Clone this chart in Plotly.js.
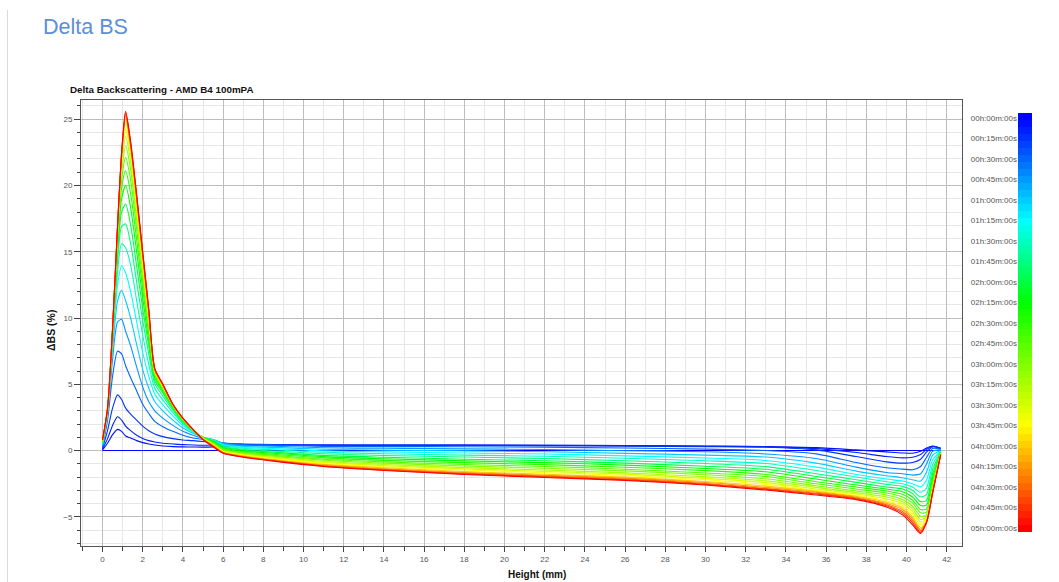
<!DOCTYPE html>
<html>
<head>
<meta charset="utf-8">
<script src="https://cdn.plot.ly/plotly-3.0.1.min.js"></script>
<style>
html,body{margin:0;padding:0;background:#ffffff;}
#chart{width:1059px;height:582px;}
</style>
</head>
<body>
<div id="chart"></div>
<script>
// ---- DATA ----
const heightMm = [0, 0.25, 0.5, 0.75, 0.95, 1.15, 1.4, 1.7, 2.0, 2.3, 2.6, 3.0, 3.5, 4.0, 4.5, 5.0, 5.5, 6.0, 7.0, 8.5, 11, 14, 18, 22, 26, 30, 33, 35.5, 37.5, 39, 39.8, 40.3, 40.7, 41.0, 41.3, 41.7];

const scanMinutes = [0, 5, 10, 15, 30, 45, 60, 75, 90, 105, 120, 135, 150, 165, 180, 195, 210, 225, 240, 255, 270, 285, 300];

const scan_000 = [0,0,0,0,0,0,0,0,0,0,0,0,0,0,0,0,0,0,0,0,0,0,0,0,0,0,0,0,0,0,0,0,0,0,0,0];
const scan_005 = [0.05,0.55,1.2,1.6,1.45,1.1,0.95,0.75,0.6,0.5,0.42,0.35,0.3,0.28,0.27,0.26,0.28,0.32,0.38,0.4,0.41,0.41,0.41,0.39,0.37,0.33,0.3,0.22,0.05,-0.1,-0.18,-0.2,-0.05,0.2,0.35,0.2];
const scan_010 = [0.1,0.9,1.9,2.55,2.3,1.85,1.5,1.15,0.92,0.75,0.65,0.55,0.5,0.45,0.42,0.4,0.42,0.45,0.45,0.45,0.42,0.42,0.42,0.4,0.38,0.35,0.3,0.15,-0.15,-0.45,-0.55,-0.5,-0.3,0.1,0.32,0.15];
const scan_015 = [0.15,1.5,3.2,4.2,3.85,3.2,2.75,2.3,1.85,1.5,1.25,1.05,0.9,0.8,0.75,0.68,0.62,0.55,0.5,0.45,0.39,0.38,0.38,0.35,0.33,0.3,0.25,0.05,-0.45,-0.85,-0.95,-0.9,-0.65,-0.1,0.28,0.12];
const scan_030 = [0.25,2.3,5.6,7.5,7.3,6.4,5.5,4.5,3.5,2.8,2.2,1.8,1.45,1.15,0.95,0.85,0.78,0.58,0.46,0.42,0.32,0.3,0.29,0.25,0.19,0.11,0.0,-0.25,-0.9,-1.3,-1.4,-1.45,-1.2,-0.5,0.15,0.1];
const scan_045 = [0.35,2.6,6.9,9.7,9.9,9.0,7.9,6.3,4.8,3.7,3.0,2.45,1.9,1.45,1.15,0.93,0.83,0.56,0.39,0.33,0.21,0.17,0.13,0.08,-0.01,-0.09,-0.26,-0.6,-1.25,-1.65,-1.75,-1.85,-1.75,-1.0,-0.05,0.05];
const scan_060 = [0.4,2.75,7.6,11.3,12.1,11.3,10.0,8.0,6.1,4.7,3.7,3.0,2.3,1.7,1.3,0.98,0.84,0.52,0.32,0.24,0.1,0.03,-0.02,-0.09,-0.21,-0.34,-0.49,-0.95,-1.55,-1.9,-2.05,-2.2,-2.3,-1.6,-0.35,0.0];
const scan_075 = [0.45,2.85,8.0,12.5,13.95,13.4,12.0,9.7,7.4,5.6,4.25,3.45,2.62,1.88,1.38,1.0,0.82,0.46,0.24,0.15,-0.02,-0.1,-0.18,-0.26,-0.4,-0.56,-0.75,-1.25,-1.8,-2.15,-2.3,-2.5,-2.75,-2.2,-0.7,-0.05];
const scan_090 = [0.5,2.9,8.3,13.5,15.6,15.3,14.0,11.3,8.7,6.5,4.7,3.82,2.87,2.02,1.45,1.0,0.79,0.4,0.17,0.06,-0.13,-0.24,-0.34,-0.43,-0.58,-0.77,-0.98,-1.5,-2.0,-2.35,-2.5,-2.75,-3.15,-2.8,-1.05,-0.05];
const scan_105 = [0.55,2.95,8.5,14.3,16.9,17.1,15.6,12.7,9.8,7.3,5.05,4.12,3.05,2.12,1.48,1.0,0.75,0.33,0.1,-0.03,-0.24,-0.37,-0.49,-0.6,-0.77,-0.98,-1.21,-1.75,-2.2,-2.55,-2.7,-3.0,-3.5,-3.3,-1.4,-0.1];
const scan_120 = [0.6,3.0,8.6,14.9,18.0,18.6,17.0,13.9,10.7,7.9,5.3,4.35,3.18,2.2,1.5,1.0,0.71,0.27,0.03,-0.12,-0.36,-0.5,-0.65,-0.77,-0.95,-1.18,-1.41,-1.95,-2.4,-2.75,-2.9,-3.25,-3.85,-3.75,-1.75,-0.1];
const scan_135 = [0.62,3.0,8.7,15.4,19.0,20.0,18.3,15.0,11.5,8.3,5.5,4.5,3.27,2.26,1.52,0.99,0.67,0.21,-0.03,-0.2,-0.46,-0.62,-0.78,-0.91,-1.1,-1.35,-1.6,-2.15,-2.6,-2.9,-3.1,-3.5,-4.15,-4.1,-2.05,-0.15];
const scan_150 = [0.65,3.0,8.8,15.8,19.8,21.1,19.4,15.9,12.2,8.8,5.65,4.62,3.33,2.3,1.54,0.98,0.62,0.15,-0.09,-0.28,-0.55,-0.74,-0.91,-1.06,-1.26,-1.51,-1.8,-2.35,-2.75,-3.05,-3.3,-3.75,-4.45,-4.4,-2.3,-0.15];
const scan_165 = [0.68,3.05,8.9,16.1,20.4,22.1,20.4,16.7,12.8,9.2,5.75,4.71,3.38,2.33,1.55,0.96,0.58,0.09,-0.15,-0.36,-0.65,-0.85,-1.05,-1.2,-1.41,-1.69,-1.96,-2.5,-2.9,-3.2,-3.5,-3.95,-4.7,-4.65,-2.5,-0.2];
const scan_180 = [0.7,3.05,8.95,16.3,20.9,23.0,21.2,17.4,13.3,9.5,5.85,4.78,3.41,2.36,1.56,0.95,0.54,0.04,-0.2,-0.42,-0.73,-0.95,-1.16,-1.33,-1.53,-1.82,-2.13,-2.65,-3.05,-3.35,-3.7,-4.2,-4.95,-4.85,-2.7,-0.2];
const scan_195 = [0.72,3.05,9.0,16.5,21.3,23.7,21.8,17.9,13.7,9.8,5.92,4.83,3.43,2.38,1.57,0.93,0.5,-0.01,-0.27,-0.5,-0.83,-1.05,-1.29,-1.47,-1.68,-1.98,-2.29,-2.78,-3.17,-3.5,-3.85,-4.4,-5.2,-5.0,-2.85,-0.2];
const scan_210 = [0.74,3.1,9.05,16.65,21.6,24.25,22.3,18.3,14.0,10.0,5.98,4.87,3.45,2.39,1.58,0.92,0.46,-0.05,-0.31,-0.55,-0.89,-1.14,-1.38,-1.57,-1.78,-2.1,-2.42,-2.9,-3.28,-3.65,-4.0,-4.6,-5.4,-5.1,-2.95,-0.25];
const scan_225 = [0.76,3.1,9.1,16.75,21.9,24.7,22.6,18.6,14.3,10.2,6.03,4.9,3.46,2.4,1.58,0.9,0.43,-0.09,-0.35,-0.61,-0.96,-1.22,-1.47,-1.67,-1.88,-2.2,-2.55,-3.0,-3.37,-3.78,-4.15,-4.8,-5.6,-5.2,-3.0,-0.25];
const scan_240 = [0.77,3.1,9.1,16.85,22.1,25.0,22.8,18.8,14.5,10.35,6.07,4.93,3.47,2.41,1.59,0.88,0.4,-0.12,-0.4,-0.67,-1.04,-1.3,-1.58,-1.79,-2.0,-2.33,-2.68,-3.08,-3.45,-3.9,-4.3,-5.0,-5.8,-5.3,-3.05,-0.25];
const scan_255 = [0.78,3.1,9.15,16.9,22.2,25.25,23.0,19.0,14.7,10.45,6.1,4.96,3.48,2.42,1.6,0.86,0.37,-0.15,-0.43,-0.71,-1.09,-1.37,-1.65,-1.86,-2.08,-2.41,-2.78,-3.15,-3.52,-4.0,-4.45,-5.15,-5.95,-5.35,-3.1,-0.3];
const scan_270 = [0.79,3.15,9.15,16.95,22.3,25.4,23.1,19.1,14.8,10.55,6.13,4.98,3.49,2.43,1.6,0.85,0.35,-0.17,-0.46,-0.75,-1.14,-1.42,-1.71,-1.93,-2.15,-2.49,-2.87,-3.22,-3.58,-4.08,-4.6,-5.3,-6.05,-5.4,-3.15,-0.3];
const scan_285 = [0.8,3.15,9.2,17.0,22.4,25.5,23.2,19.2,14.9,10.62,6.16,5.0,3.5,2.44,1.6,0.83,0.33,-0.19,-0.48,-0.77,-1.17,-1.47,-1.76,-1.98,-2.2,-2.55,-2.91,-3.28,-3.64,-4.17,-4.72,-5.45,-6.15,-5.4,-3.2,-0.3];
const scan_300 = [0.8,3.2,9.2,17.0,22.5,25.6,23.3,19.3,15.0,10.7,6.2,5.02,3.5,2.45,1.6,0.82,0.28,-0.2,-0.5,-0.8,-1.2,-1.5,-1.8,-2.03,-2.25,-2.6,-2.98,-3.35,-3.7,-4.25,-4.85,-5.6,-6.25,-5.4,-3.2,-0.3];

const scans = [scan_000, scan_005, scan_010, scan_015, scan_030, scan_045, scan_060, scan_075, scan_090, scan_105, scan_120, scan_135, scan_150, scan_165, scan_180, scan_195, scan_210, scan_225, scan_240, scan_255, scan_270, scan_285, scan_300];

const colorbarTickMinutes = [0, 15, 30, 45, 60, 75, 90, 105, 120, 135, 150, 165, 180, 195, 210, 225, 240, 255, 270, 285, 300];
const colorbarTickText = ["00h:00m:00s","00h:15m:00s","00h:30m:00s","00h:45m:00s","01h:00m:00s","01h:15m:00s","01h:30m:00s","01h:45m:00s","02h:00m:00s","02h:15m:00s","02h:30m:00s","02h:45m:00s","03h:00m:00s","03h:15m:00s","03h:30m:00s","03h:45m:00s","04h:00m:00s","04h:15m:00s","04h:30m:00s","04h:45m:00s","05h:00m:00s"];

// ---- STYLE ----
const timeScale = [[0, '#0000ff'], [0.25, '#00ffff'], [0.45, '#00ff00'], [0.75, '#ffff00'], [1, '#ff0000']];
const FONT = 'Liberation Sans, Arial, sans-serif';

function hexToRgb(h) { return [parseInt(h.substr(1,2),16), parseInt(h.substr(3,2),16), parseInt(h.substr(5,2),16)]; }
function colorAt(f) {
  for (let i = 1; i < timeScale.length; i++) {
    if (f <= timeScale[i][0]) {
      const a = timeScale[i-1], b = timeScale[i];
      const u = (f - a[0]) / (b[0] - a[0]);
      const ca = hexToRgb(a[1]), cb = hexToRgb(b[1]);
      const c = ca.map((v, k) => Math.round(v + (cb[k] - v) * u));
      return 'rgb(' + c.join(',') + ')';
    }
  }
  return timeScale[timeScale.length-1][1];
}

const tMax = 300;
const traces = scans.map((ys, i) => ({
  type: 'scatter', mode: 'lines', x: heightMm, y: ys,
  xaxis: 'x', yaxis: 'y',
  line: { color: colorAt(scanMinutes[i] / tMax), width: 1.1, shape: 'spline', smoothing: 0.7 },
  hoverinfo: 'skip', showlegend: false
}));

// colour bar drawn as a one-column heatmap on its own axes
const barTop = -3.66, barBottom = 302.9, nBands = 60;
const barEdges = [], barZ = [];
for (let i = 0; i <= nBands; i++) barEdges.push(barTop + (barBottom - barTop) * i / nBands);
for (let i = 0; i < nBands; i++) barZ.push([(barEdges[i] + barEdges[i+1]) / 2]);
traces.push({
  type: 'heatmap', x: [0, 1], y: barEdges, z: barZ, xaxis: 'x2', yaxis: 'y2',
  colorscale: timeScale, zmin: 0, zmax: tMax, showscale: false, hoverinfo: 'skip'
});

const L = 81, R = 27, T = 100, B = 36, W = 1059, H = 582;
const pw = W - L - R, ph = H - T - B;
const px = v => (v - L) / pw;
const py = v => (H - B - v) / ph;

const layout = {
  width: W, height: H,
  margin: { l: L, r: R, t: T, b: B, pad: 0 },
  paper_bgcolor: '#ffffff', plot_bgcolor: '#ffffff',
  font: { family: FONT, size: 8, color: '#555' },
  title: {
    text: 'Delta BS', xref: 'container', yref: 'container',
    x: 43 / W, xanchor: 'left', y: 1 - 26 / H, yanchor: 'middle',
    font: { family: FONT, size: 21.5, color: '#5b8fd8' }
  },
  xaxis: {
    domain: [0, px(962)], range: [-1.07, 42.76],
    tick0: 0, dtick: 2, ticks: 'outside', ticklen: 5, tickcolor: '#444', tickwidth: 1,
    showgrid: true, gridcolor: '#bdbdbd', gridwidth: 1,
    minor: { dtick: 1, ticks: 'outside', ticklen: 4, tickcolor: '#444', showgrid: true, gridcolor: '#e6e6e6' },
    showline: true, linecolor: '#555', linewidth: 1, mirror: true, zeroline: false,
    tickfont: { family: FONT, size: 8, color: '#555' }, fixedrange: true
  },
  yaxis: {
    domain: [0, 1], range: [-7.2, 26.45],
    tick0: 0, dtick: 5, ticks: 'outside', ticklen: 6, tickcolor: '#444', tickwidth: 1,
    showgrid: true, gridcolor: '#bdbdbd', gridwidth: 1,
    minor: { dtick: 1, ticks: 'outside', ticklen: 3, tickcolor: '#444', showgrid: true, gridcolor: '#e6e6e6' },
    showline: true, linecolor: '#555', linewidth: 1, mirror: true, zeroline: false,
    tickfont: { family: FONT, size: 8, color: '#555' }, fixedrange: true
  },
  xaxis2: { domain: [px(1018), 1], range: [0, 1], visible: false, anchor: 'y2', fixedrange: true },
  yaxis2: {
    domain: [py(532), py(113)], range: [barBottom, barTop], anchor: 'x2', side: 'left',
    tickvals: colorbarTickMinutes, ticktext: colorbarTickText, ticks: '',
    showgrid: false, zeroline: false, showline: false,
    tickfont: { family: FONT, size: 8, color: '#555' }, fixedrange: true
  },
  annotations: [
    { text: '<b>Delta Backscattering - AMD B4 100mPA</b>', xref: 'paper', yref: 'paper',
      x: px(68), y: py(90), xanchor: 'left', yanchor: 'middle', showarrow: false,
      font: { family: FONT, size: 9.8, color: '#111' } },
    { text: '<b>ΔBS (%)</b>', xref: 'paper', yref: 'paper', textangle: -90,
      x: px(51), y: py(331), xanchor: 'center', yanchor: 'middle', showarrow: false,
      font: { family: FONT, size: 10.5, color: '#111' } },
    { text: '<b>Height (mm)</b>', xref: 'paper', yref: 'paper',
      x: px(537), y: py(574), xanchor: 'center', yanchor: 'middle', showarrow: false,
      font: { family: FONT, size: 10, color: '#111' } }
  ],
  shapes: [
    { type: 'line', xref: 'paper', yref: 'paper', x0: px(7.5), x1: px(7.5), y0: py(582), y1: py(10),
      line: { color: '#d9d9d9', width: 1 } }
  ]
};

Plotly.newPlot('chart', traces, layout, { displayModeBar: false, staticPlot: true });
</script>
</body>
</html>
